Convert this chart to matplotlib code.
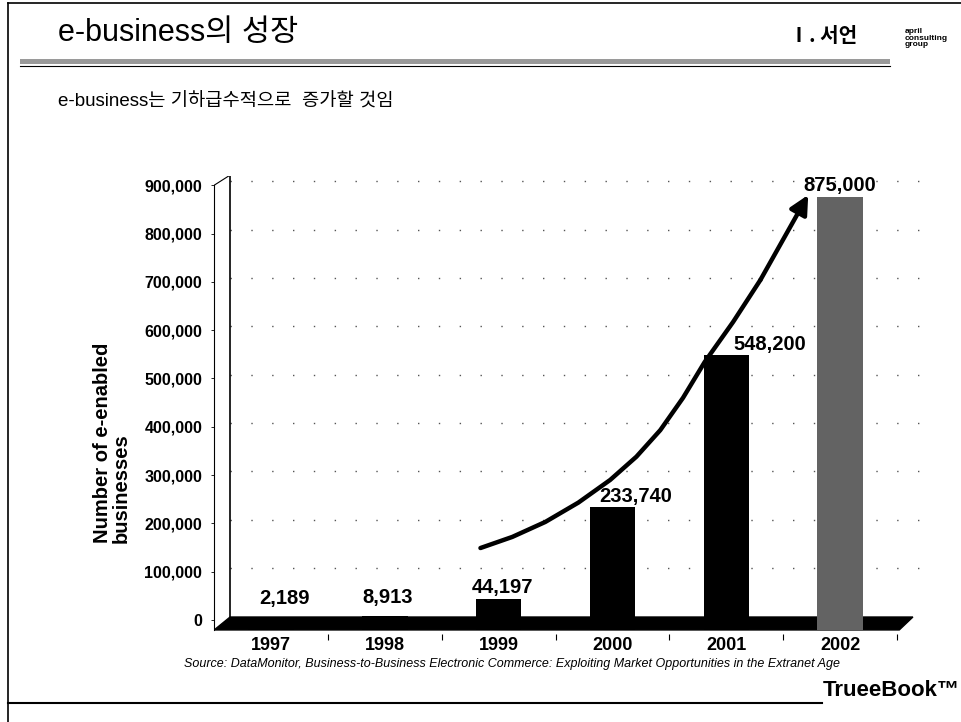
import matplotlib
matplotlib.use("Agg")
import matplotlib.pyplot as plt
from matplotlib.patches import Polygon, Rectangle
from matplotlib.lines import Line2D

years = ["1997", "1998", "1999", "2000", "2001", "2002"]
businesses = [2189, 8913, 44197, 233740, 548200, 875000]
value_labels = ["2,189", "8,913", "44,197", "233,740", "548,200", "875,000"]
bar_colors = ["black", "black", "black", "black", "black", "#636363"]
y_ticks = [0, 100000, 200000, 300000, 400000, 500000, 600000, 700000, 800000, 900000]
y_ticklabels = ["0", "100,000", "200,000", "300,000", "400,000", "500,000",
                "600,000", "700,000", "800,000", "900,000"]
# growth arrow drawn over the bars (year index, value)
trend_x = [1.84, 2.12, 2.41, 2.70, 2.98, 3.21, 3.42, 3.62, 3.81, 4.06, 4.30]
trend_y = [149000, 172000, 203000, 243000, 290000, 338000, 393000, 460000, 534000, 617000, 704000]
trend_tip = (4.72, 880000)

W, H = 962, 722
fig = plt.figure(figsize=(W / 100, H / 100), dpi=100)
fig.patch.set_facecolor("white")

def fx(px):
    return px / W

def fy(py):
    return 1 - py / H

latin_kr = ["Liberation Sans", "Noto Sans CJK KR"]

# ---- slide decoration ----
fig.add_artist(Line2D([fx(8), fx(962)], [fy(3), fy(3)], color="black", lw=1.2))
fig.add_artist(Line2D([fx(8), fx(8)], [fy(3), fy(722)], color="black", lw=1.2))
fig.add_artist(Line2D([fx(8), fx(822)], [fy(703), fy(703)], color="black", lw=1.5))
fig.add_artist(Rectangle((fx(20), fy(64)), fx(890) - fx(20), fy(59) - fy(64),
                         facecolor="#9a9a9a", edgecolor="none", hatch="....",
                         transform=fig.transFigure))
fig.add_artist(Line2D([fx(20), fx(890)], [fy(66), fy(66)], color="black", lw=0.8))

fig.text(fx(58), fy(33), "e-business의 성장", fontsize=22, family=latin_kr,
         va="center", ha="left")
fig.text(fx(857), fy(36), "Ⅰ. 서언", fontsize=14.5, fontweight="bold",
         family=["Noto Sans CJK KR"], va="center", ha="right")
fig.text(fx(905), fy(38), "april\nconsulting\ngroup", fontsize=6, fontweight="bold",
         family="Liberation Sans", va="center", ha="left", linespacing=0.85)
fig.text(fx(58), fy(102), "e-business는 기하급수적으로  증가할 것임", fontsize=13.5,
         family=latin_kr, va="center", ha="left")
fig.text(fx(512), fy(664), "Source: DataMonitor, Business-to-Business Electronic Commerce: "
         "Exploiting Market Opportunities in the Extranet Age",
         fontsize=9, style="italic", family="Liberation Sans", va="center", ha="center")
fig.text(fx(823), fy(691), "TrueeBook™", fontsize=16, fontweight="bold",
         family="Liberation Sans", va="center", ha="left")
fig.text(fx(112), fy(543), "Number of e-enabled\nbusinesses", fontsize=14.5,
         fontweight="bold", family="Liberation Sans", rotation=90,
         va="bottom", ha="center", multialignment="left", linespacing=1.0)

# ---- chart ----
ax = fig.add_axes([0.2226, 0.1212, 0.7394, 0.6356])
ax.set_xlim(-0.5, 5.75)
ax.set_ylim(-30000, 920000)
for s in ["top", "right", "bottom"]:
    ax.spines[s].set_visible(False)
ax.spines["left"].set_bounds(-20600, 900000)
ax.spines["left"].set_linewidth(0.8)
ax.spines["left"].set_linestyle((0, (2, 1)))

floor_front, floor_back, wall_back = -20600, 6200, -0.36
x = list(range(len(years)))

# back wall line and slanted top
ax.plot([wall_back, wall_back], [floor_back, 921000], color="black", lw=1.2, zorder=2)
ax.plot([-0.5, wall_back], [900000, 921000], color="black", lw=0.8, zorder=2)

# dotted grid on the back wall
for t in y_ticks[1:]:
    ax.plot([wall_back, 5.85], [t + 8000, t + 8000], color="#555555", lw=1.0,
            linestyle=(0, (1, 14)), zorder=1, clip_on=False)

# floor
floor = Polygon([(-0.5, floor_front), (wall_back, floor_back), (5.64, floor_back),
                 (5.52, floor_front)], closed=True, facecolor="black",
                edgecolor="black", zorder=3)
ax.add_patch(floor)

bars = ax.bar(x, [v - floor_front for v in businesses], bottom=floor_front,
              width=0.40, color=bar_colors, zorder=4)

label_dx = [0.12, 0.02, 0.03, 0.2, 0.38, 0.0]
label_dy = [8, 6, 1, 1, 1, 2]
for i, (v, lab) in enumerate(zip(businesses, value_labels)):
    ax.annotate(lab, xy=(i + label_dx[i], v), xytext=(0, label_dy[i]),
                textcoords="offset points", ha="center", va="bottom",
                fontsize=14.5, fontweight="bold", family="Liberation Sans", zorder=6)

ax.plot(trend_x, trend_y, color="black", lw=3.2, solid_capstyle="round",
        solid_joinstyle="round", zorder=5)
ax.annotate("", xy=trend_tip, xytext=(trend_x[-1], trend_y[-1]),
            arrowprops=dict(arrowstyle="-|>", color="black", lw=3.2,
                            mutation_scale=28, shrinkA=0, shrinkB=0), zorder=5)

ax.set_yticks(y_ticks)
ax.set_yticklabels(y_ticklabels, fontsize=11.5, fontweight="bold", family="Liberation Sans")
ax.tick_params(axis="y", length=2.5, width=0.6, pad=6)
ax.set_xticks(x)
ax.set_xticklabels(years, fontsize=13, fontweight="bold", family="Liberation Sans")
ax.tick_params(axis="x", length=0, pad=2)
ax.set_xticks([i + 0.5 for i in x], minor=True)
ax.tick_params(axis="x", which="minor", length=4, width=0.8)

fig.savefig("out.png", dpi=100, facecolor="white")
